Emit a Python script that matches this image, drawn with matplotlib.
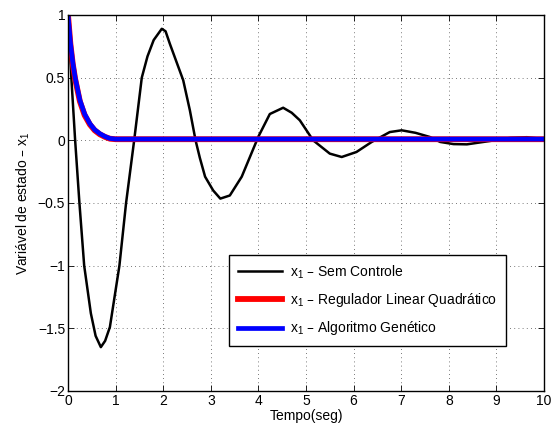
import numpy as np
import matplotlib.pyplot as plt

plt.rcParams['font.family'] = ['Liberation Sans', 'DejaVu Sans']
plt.rcParams['mathtext.default'] = 'regular'

# resposta sem controle
t_sem = [0, 0.07, 0.15, 0.24, 0.34, 0.48, 0.58, 0.69, 0.78, 0.88, 1.08, 1.22,
         1.39, 1.55, 1.67, 1.8, 1.97, 2.05, 2.14, 2.42, 2.56, 2.68, 2.77, 2.88,
         3.05, 3.2, 3.4, 3.65, 4.0, 4.24, 4.52, 4.7, 4.87, 5.15, 5.5, 5.75,
         6.06, 6.38, 6.76, 7.01, 7.3, 7.6, 7.82, 8.1, 8.38, 8.87, 9.3, 9.64, 10]
x_sem = [1, 0.5, 0.0, -0.5, -1.0, -1.38, -1.56, -1.65, -1.6, -1.49, -1.0, -0.5,
         0.0, 0.5, 0.67, 0.8, 0.89, 0.87, 0.77, 0.48, 0.24, 0.0, -0.14, -0.29,
         -0.4, -0.465, -0.44, -0.29, 0.03, 0.21, 0.26, 0.22, 0.16, 0.0, -0.106, -0.133,
         -0.093, -0.013, 0.066, 0.08, 0.06, 0.027, -0.013, -0.03, -0.032, -0.005, 0.02, 0.025, 0.01]

# controlados
t_ctrl = [0, 0.05, 0.1, 0.15, 0.25, 0.35, 0.46, 0.56, 0.67, 0.78, 0.88, 1.0, 10]
x_lqr = [1, 0.77, 0.61, 0.49, 0.31, 0.2, 0.126, 0.08, 0.048, 0.027, 0.013, 0.009, 0.009]
x_ag = [1, 0.78, 0.62, 0.5, 0.32, 0.21, 0.133, 0.085, 0.053, 0.03, 0.015, 0.01, 0.01]

fig = plt.figure(figsize=(5.54, 4.32), dpi=100)
ax = fig.add_axes([68/554, 1-391/432, 476/554, 376/432])

ax.plot(t_sem, x_sem, color='k', lw=1.8, label=r'x$_1$ – Sem Controle')
ax.plot(t_ctrl, x_lqr, color='r', lw=4.2, label=r'x$_1$ – Regulador Linear Quadrático')
ax.plot(t_ctrl, x_ag, color='b', lw=3.4, label=r'x$_1$ – Algoritmo Genético')

ax.set_xlim(0, 10)
ax.set_ylim(-2, 1)
ax.set_xticks(np.arange(0, 11, 1))
ax.set_yticks(np.arange(-2, 1.01, 0.5))
ax.set_yticklabels(['−2', '−1.5', '−1', '−0.5', '0', '0.5', '1'])
ax.tick_params(direction='in', top=True, right=True, labelsize=10, length=4, width=0.6, pad=2)
ax.grid(True, linestyle=(0, (1, 4)), color='k', lw=0.6, alpha=0.7)
for s in ax.spines.values():
    s.set_linewidth(1.0)

ax.set_xlabel('Tempo(seg)', fontsize=10, labelpad=1)
ax.set_ylabel('Variável de estado – x$_1$', fontsize=10, labelpad=4)

leg = ax.legend(loc='upper left', bbox_to_anchor=(0.339, 0.362), borderaxespad=0,
                fontsize=10, fancybox=False, framealpha=1, edgecolor='k',
                handlelength=3.2, labelspacing=0.75, borderpad=0.6, handletextpad=0.6)
leg.get_frame().set_linewidth(1.0)

fig.savefig('out.png', dpi=100)
